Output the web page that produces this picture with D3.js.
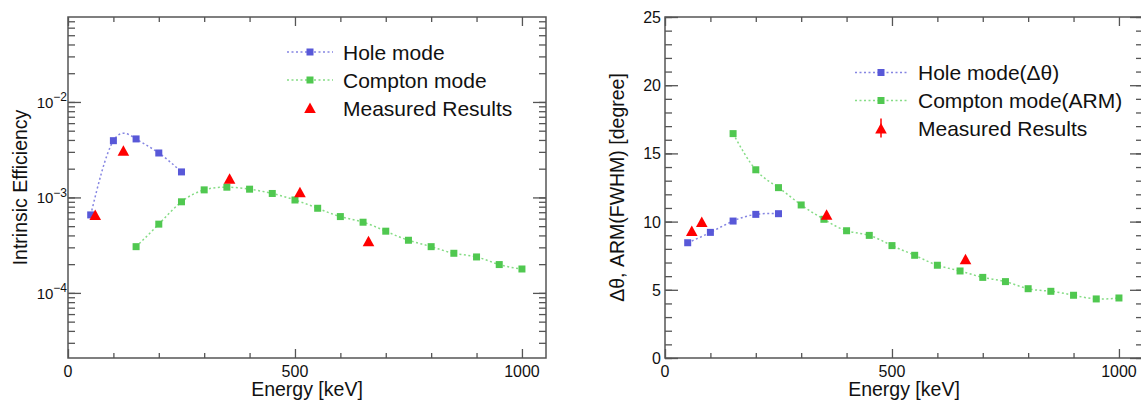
<!DOCTYPE html>
<html>
<head>
<meta charset="utf-8">
<script src="https://cdn.jsdelivr.net/npm/d3@7"></script>
<style>
  body { margin: 0; background: #fff; }
  svg { font-family: "Liberation Sans", Arial, Helvetica, sans-serif; }
</style>
</head>
<body>
<script>
// values
const energyHole = [50, 100, 150, 200, 250];
const energyCompton = [150, 200, 250, 300, 350, 400, 450, 500, 550, 600, 650, 700, 750, 800, 850, 900, 950, 1000];
const holeEff = [6.56e-4, 3.93e-3, 4.1e-3, 2.92e-3, 1.85e-3];
const comptonEff = [3.05e-4, 5.25e-4, 9.0e-4, 1.2e-3, 1.28e-3, 1.22e-3, 1.1e-3, 9.4e-4, 7.7e-4, 6.3e-4, 5.5e-4, 4.43e-4, 3.56e-4, 3.05e-4, 2.6e-4, 2.38e-4, 1.98e-4, 1.78e-4];
const energyMeasEff = [60, 122, 356, 511, 662];
const measEff = [6.56e-4, 3.08e-3, 1.57e-3, 1.13e-3, 3.48e-4];

const holeDTheta = [8.45, 9.21, 10.04, 10.53, 10.58];
const comptonARM = [16.45, 13.8, 12.49, 11.22, 10.17, 9.33, 8.99, 8.24, 7.53, 6.8, 6.38, 5.91, 5.6, 5.08, 4.89, 4.6, 4.33, 4.4];
const energyMeasARM = [59, 81, 356, 662];
const measARM = [9.31, 9.97, 10.5, 7.24];

// tick labels
const xLabels = [0, 500, 1000];
const effLabels = [1e-4, 1e-3, 1e-2];
const angLabels = [0, 5, 10, 15, 20, 25];

const legendEff = ["Hole mode", "Compton mode", "Measured Results"];
const legendAng = ["Hole mode(\u0394\u03b8)", "Compton mode(ARM)", "Measured Results"];

const blue = "#5858d8", blueLine = "#8585e2";
const green = "#50c850", greenLine = "#85dc85";
const red = "#ff0000";
const axisColor = "#555";

const width = 1141, height = 401;
const plotW = 478, plotH = 341;

let svg = d3.select("body")
  .append("svg")
  .attr("width", width)
  .attr("height", height);

let x_scale = d3.scaleLinear().domain([0, 1053]).range([0, plotW]);
let yEff = d3.scaleLog().domain([2.08e-5, 0.0776]).range([plotH, 0]);
let yAng = d3.scaleLinear().domain([0, 25]).range([plotH, 0]);

let gL = svg.append("g").attr("transform", "translate(68,17)");
let gR = svg.append("g").attr("transform", "translate(665,17)");

function tickSet(g, axisFn, scale, values, size, transform) {
  g.append("g")
    .attr("transform", transform)
    .call(axisFn(scale).tickValues(values).tickSize(size).tickSizeOuter(0).tickFormat(""))
    .call(a => a.select(".domain").remove())
    .selectAll("line")
    .attr("stroke", axisColor)
    .attr("stroke-width", 1.3);
}

function frame(g, y, yMinor, yMajor) {
  g.append("rect")
    .attr("width", plotW).attr("height", plotH)
    .attr("fill", "none").attr("stroke", axisColor).attr("stroke-width", 1.5);
  let xMinor = [100, 200, 300, 400, 600, 700, 800, 900];
  tickSet(g, d3.axisBottom, x_scale, xMinor, -5, `translate(0,${plotH})`);
  tickSet(g, d3.axisBottom, x_scale, xLabels, -9, `translate(0,${plotH})`);
  tickSet(g, d3.axisTop, x_scale, xMinor, -5, "translate(0,0)");
  tickSet(g, d3.axisTop, x_scale, xLabels, -9, "translate(0,0)");
  tickSet(g, d3.axisLeft, y, yMinor, -7, "translate(0,0)");
  tickSet(g, d3.axisLeft, y, yMajor, -13, "translate(0,0)");
  tickSet(g, d3.axisRight, y, yMinor, -7, `translate(${plotW},0)`);
  tickSet(g, d3.axisRight, y, yMajor, -13, `translate(${plotW},0)`);

  g.selectAll("text.xlab")
    .data(xLabels)
    .enter()
    .append("text")
    .attr("class", "xlab")
    .attr("x", d => x_scale(d))
    .attr("y", plotH + 19)
    .style("text-anchor", "middle")
    .style("font-size", "16px")
    .attr("fill", "#111")
    .text(d => d);

  g.append("text")
    .attr("x", plotW / 2)
    .attr("y", plotH + 38)
    .style("text-anchor", "middle")
    .style("font-size", "19.5px")
    .attr("fill", "#111")
    .text("Energy [keV]");
}

function series(g, y, xs, ys, col, lineCol, curve) {
  let pts = xs.map((e, i) => [x_scale(e), y(ys[i])]);
  g.append("path")
    .attr("d", d3.line().curve(curve)(pts))
    .attr("fill", "none")
    .attr("stroke", lineCol)
    .attr("stroke-width", 1.5)
    .attr("stroke-dasharray", "2,2.5");
  g.selectAll(null)
    .data(pts)
    .enter()
    .append("rect")
    .attr("x", d => d[0] - 3.5)
    .attr("y", d => d[1] - 3.5)
    .attr("width", 7)
    .attr("height", 7)
    .attr("fill", col);
}

const tri = "M0,-5.5L5.8,5L-5.8,5Z";

function measured(g, y, xs, ys) {
  g.selectAll(null)
    .data(xs)
    .enter()
    .append("path")
    .attr("d", tri)
    .attr("transform", (d, i) => `translate(${x_scale(d)},${y(ys[i])})`)
    .attr("fill", red);
}

function legend(g, x0, lx0, lx1, textX, y0, labels, errBar) {
  let rows = [[blueLine, blue], [greenLine, green]];
  rows.forEach((r, i) => {
    let yy = y0 + i * 28;
    g.append("line")
      .attr("x1", lx0).attr("x2", lx1).attr("y1", yy).attr("y2", yy)
      .attr("stroke", r[0]).attr("stroke-width", 1.5).attr("stroke-dasharray", "2,2.5");
    g.append("rect")
      .attr("x", x0 - 3.5).attr("y", yy - 3.5).attr("width", 7).attr("height", 7)
      .attr("fill", r[1]);
  });
  let ym = y0 + 56;
  if (errBar) {
    g.append("line")
      .attr("x1", x0).attr("x2", x0).attr("y1", ym - 10).attr("y2", ym + 9)
      .attr("stroke", red).attr("stroke-width", 1.5);
  }
  g.append("path").attr("d", tri).attr("transform", `translate(${x0},${ym})`).attr("fill", red);
  labels.forEach((t, i) => {
    g.append("text")
      .attr("x", textX)
      .attr("y", y0 + i * 28 + 7.5)
      .style("font-size", "21px")
      .attr("fill", "#111")
      .text(t);
  });
}

///////// LEFT: intrinsic efficiency /////////
frame(gL, yEff, yEff.ticks(), effLabels);

effLabels.forEach(v => {
  let t = gL.append("text")
    .attr("x", -1)
    .attr("y", yEff(v) + 6)
    .style("text-anchor", "end")
    .style("font-size", "15px")
    .attr("fill", "#111");
  t.append("tspan").text("10");
  t.append("tspan").attr("dy", -6.5).style("font-size", "12px").text("\u2212" + Math.round(-Math.log10(v)));
});

gL.append("text")
  .attr("transform", `translate(-41,${plotH / 2}) rotate(-90)`)
  .style("text-anchor", "middle")
  .style("font-size", "19.5px")
  .attr("fill", "#111")
  .text("Intrinsic Efficiency");

series(gL, yEff, energyCompton, comptonEff, green, greenLine, d3.curveNatural);
series(gL, yEff, energyHole, holeEff, blue, blueLine, d3.curveNatural);
measured(gL, yEff, energyMeasEff, measEff);
legend(svg, 310, 287, 333, 343, 52, legendEff, false);

///////// RIGHT: angular resolution /////////
frame(gR, yAng, d3.range(0, 26, 1), angLabels);

gR.selectAll("text.ylab")
  .data(angLabels)
  .enter()
  .append("text")
  .attr("class", "ylab")
  .attr("x", -4)
  .attr("y", d => yAng(d) + 6)
  .style("text-anchor", "end")
  .style("font-size", "16px")
  .attr("fill", "#111")
  .text(d => d);

gR.append("text")
  .attr("transform", `translate(-41,${plotH / 2}) rotate(-90)`)
  .style("text-anchor", "middle")
  .style("font-size", "19.5px")
  .attr("fill", "#111")
  .text("\u0394\u03b8, ARM(FWHM) [degree]");

series(gR, yAng, energyCompton, comptonARM, green, greenLine, d3.curveNatural);
series(gR, yAng, energyHole, holeDTheta, blue, blueLine, d3.curveNatural);
measured(gR, yAng, energyMeasARM, measARM);
legend(svg, 881, 855, 907, 918, 72.5, legendAng, true);
</script>
</body>
</html>
